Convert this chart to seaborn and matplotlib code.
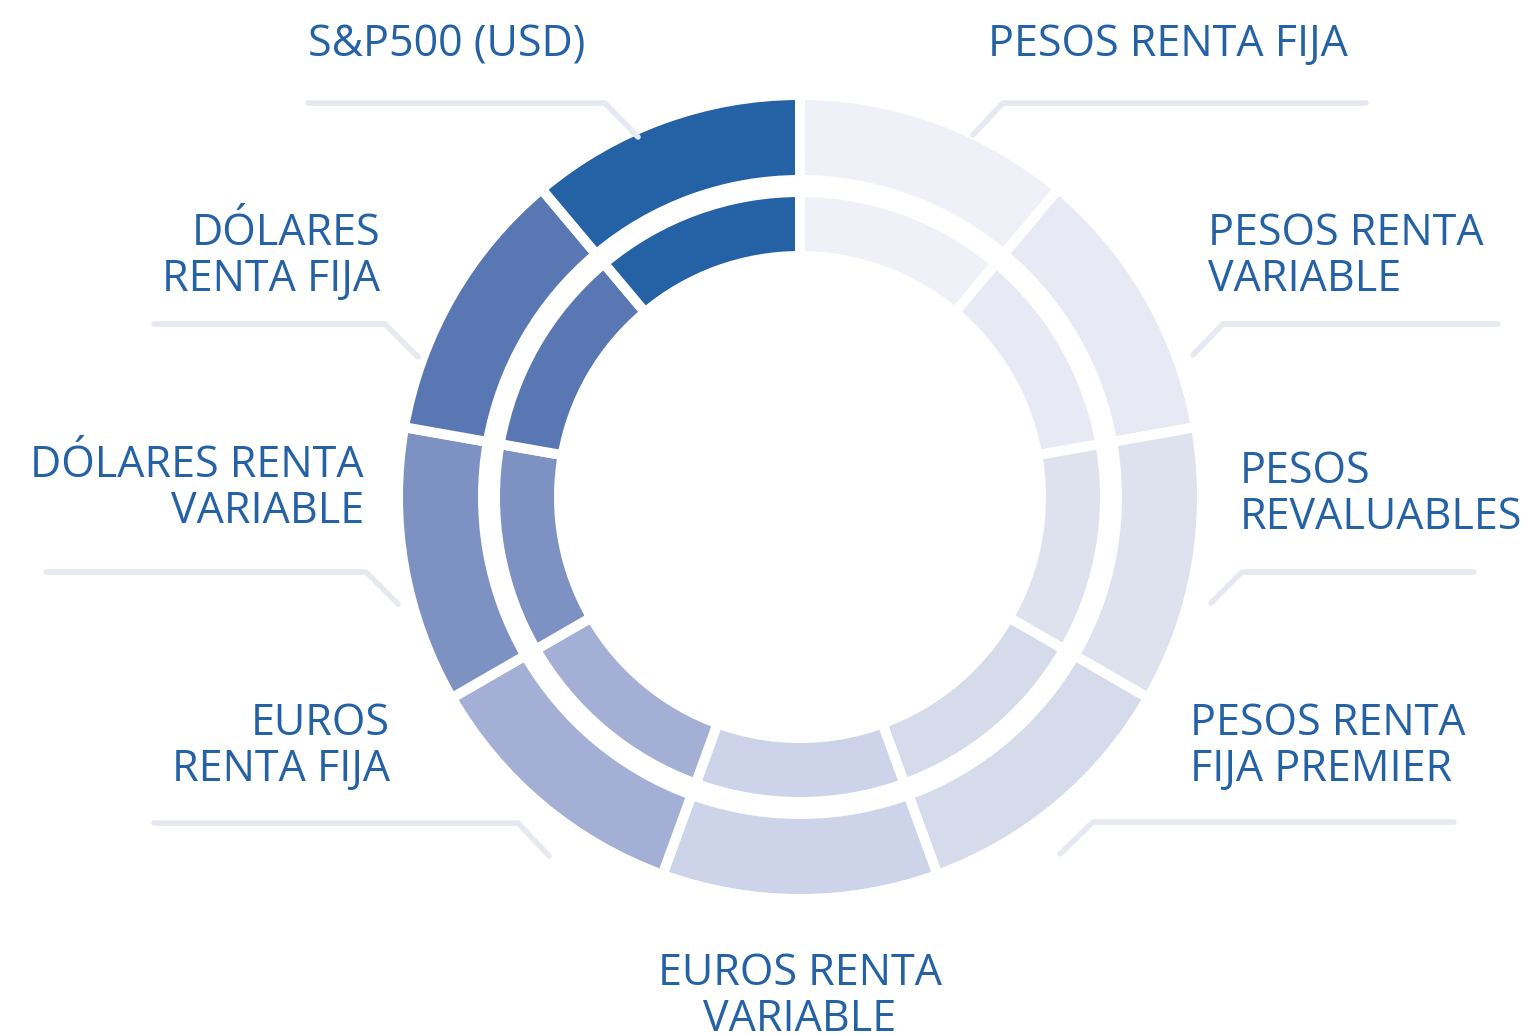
import matplotlib
matplotlib.use("Agg")
import matplotlib.pyplot as plt
import seaborn as sns

# data: clockwise from the top
categories = ["PESOS RENTA FIJA", "PESOS RENTA VARIABLE", "PESOS REVALUABLES",
              "PESOS RENTA FIJA PREMIER", "EUROS RENTA VARIABLE", "EUROS RENTA FIJA",
              "DÓLARES RENTA VARIABLE", "DÓLARES RENTA FIJA", "S&P500 (USD)"]
outer_share = [1, 1, 1, 1, 1, 1, 1, 1, 1]
inner_share = [1, 1, 1, 1, 1, 1, 1, 1, 1]
labels = ["PESOS RENTA FIJA", "PESOS RENTA\nVARIABLE", "PESOS\nREVALUABLES",
          "PESOS RENTA\nFIJA PREMIER", "EUROS RENTA\nVARIABLE", "EUROS\nRENTA FIJA",
          "DÓLARES RENTA\nVARIABLE", "DÓLARES\nRENTA FIJA", "S&P500 (USD)"]
colors = ["#EFF0F8", "#E7EAF5", "#DEE2EF", "#D6DBEB", "#CDD3E8",
          "#A3AFD5", "#7E91C3", "#5877B3", "#2461A5"]

sns.set_theme(style="white")
plt.rcParams["font.family"] = ["Open Sans", "DejaVu Sans"]
text_color = "#2461A5"
line_color = "#E6E9EF"

fig = plt.figure(figsize=(15.25, 10.34), dpi=100)
ax = fig.add_axes([0, 0, 1, 1])

cx, cy = 800, 497
gap = 10
pal = sns.color_palette(colors)
wprops = dict(edgecolor="white", linewidth=gap * 0.72)
# y axis is inverted below, so counterclock=True runs clockwise on screen
ax.pie(outer_share, colors=pal, startangle=-90, counterclock=True,
       radius=397 + gap / 2, center=(cx, cy), frame=True,
       wedgeprops=dict(width=75 + gap, **wprops))
ax.pie(inner_share, colors=pal, startangle=-90, counterclock=True,
       radius=300 + gap / 2, center=(cx, cy), frame=True,
       wedgeprops=dict(width=54 + gap, **wprops))
ax.set_xlim(0, 1525)
ax.set_ylim(1034, 0)
ax.set_aspect("equal")
ax.axis("off")

# label layout: (x, y, ha)
label_pos = [(988, 45, "left"), (1208, 257, "left"), (1240, 495, "left"),
             (1190, 747, "left"), (800, 997, "center"), (390, 747, "right"),
             (364, 489, "right"), (380, 257, "right"), (308, 45, "left")]
for lab, (x, y, ha) in zip(labels, label_pos):
    ax.text(x, y, lab, ha=ha, va="center", multialignment=ha,
            fontsize=31, color=text_color, linespacing=1.03)

# leader lines
leaders = [
    [(973, 135), (1003, 103), (1366, 103)],
    [(1193, 355), (1223, 324), (1498, 324)],
    [(1211, 603), (1242, 572), (1474, 572)],
    [(1060, 854), (1093, 822), (1454, 822)],
    [(549, 856), (518, 823), (154, 823)],
    [(398, 604), (366, 572), (46, 572)],
    [(418, 357), (385, 324), (154, 324)],
    [(638, 137), (605, 103), (308, 103)],
]
for pts in leaders:
    xs, ys = zip(*pts)
    ax.plot(xs, ys, color=line_color, lw=4, solid_capstyle="round",
            solid_joinstyle="round")

fig.savefig("out.png", dpi=100)
